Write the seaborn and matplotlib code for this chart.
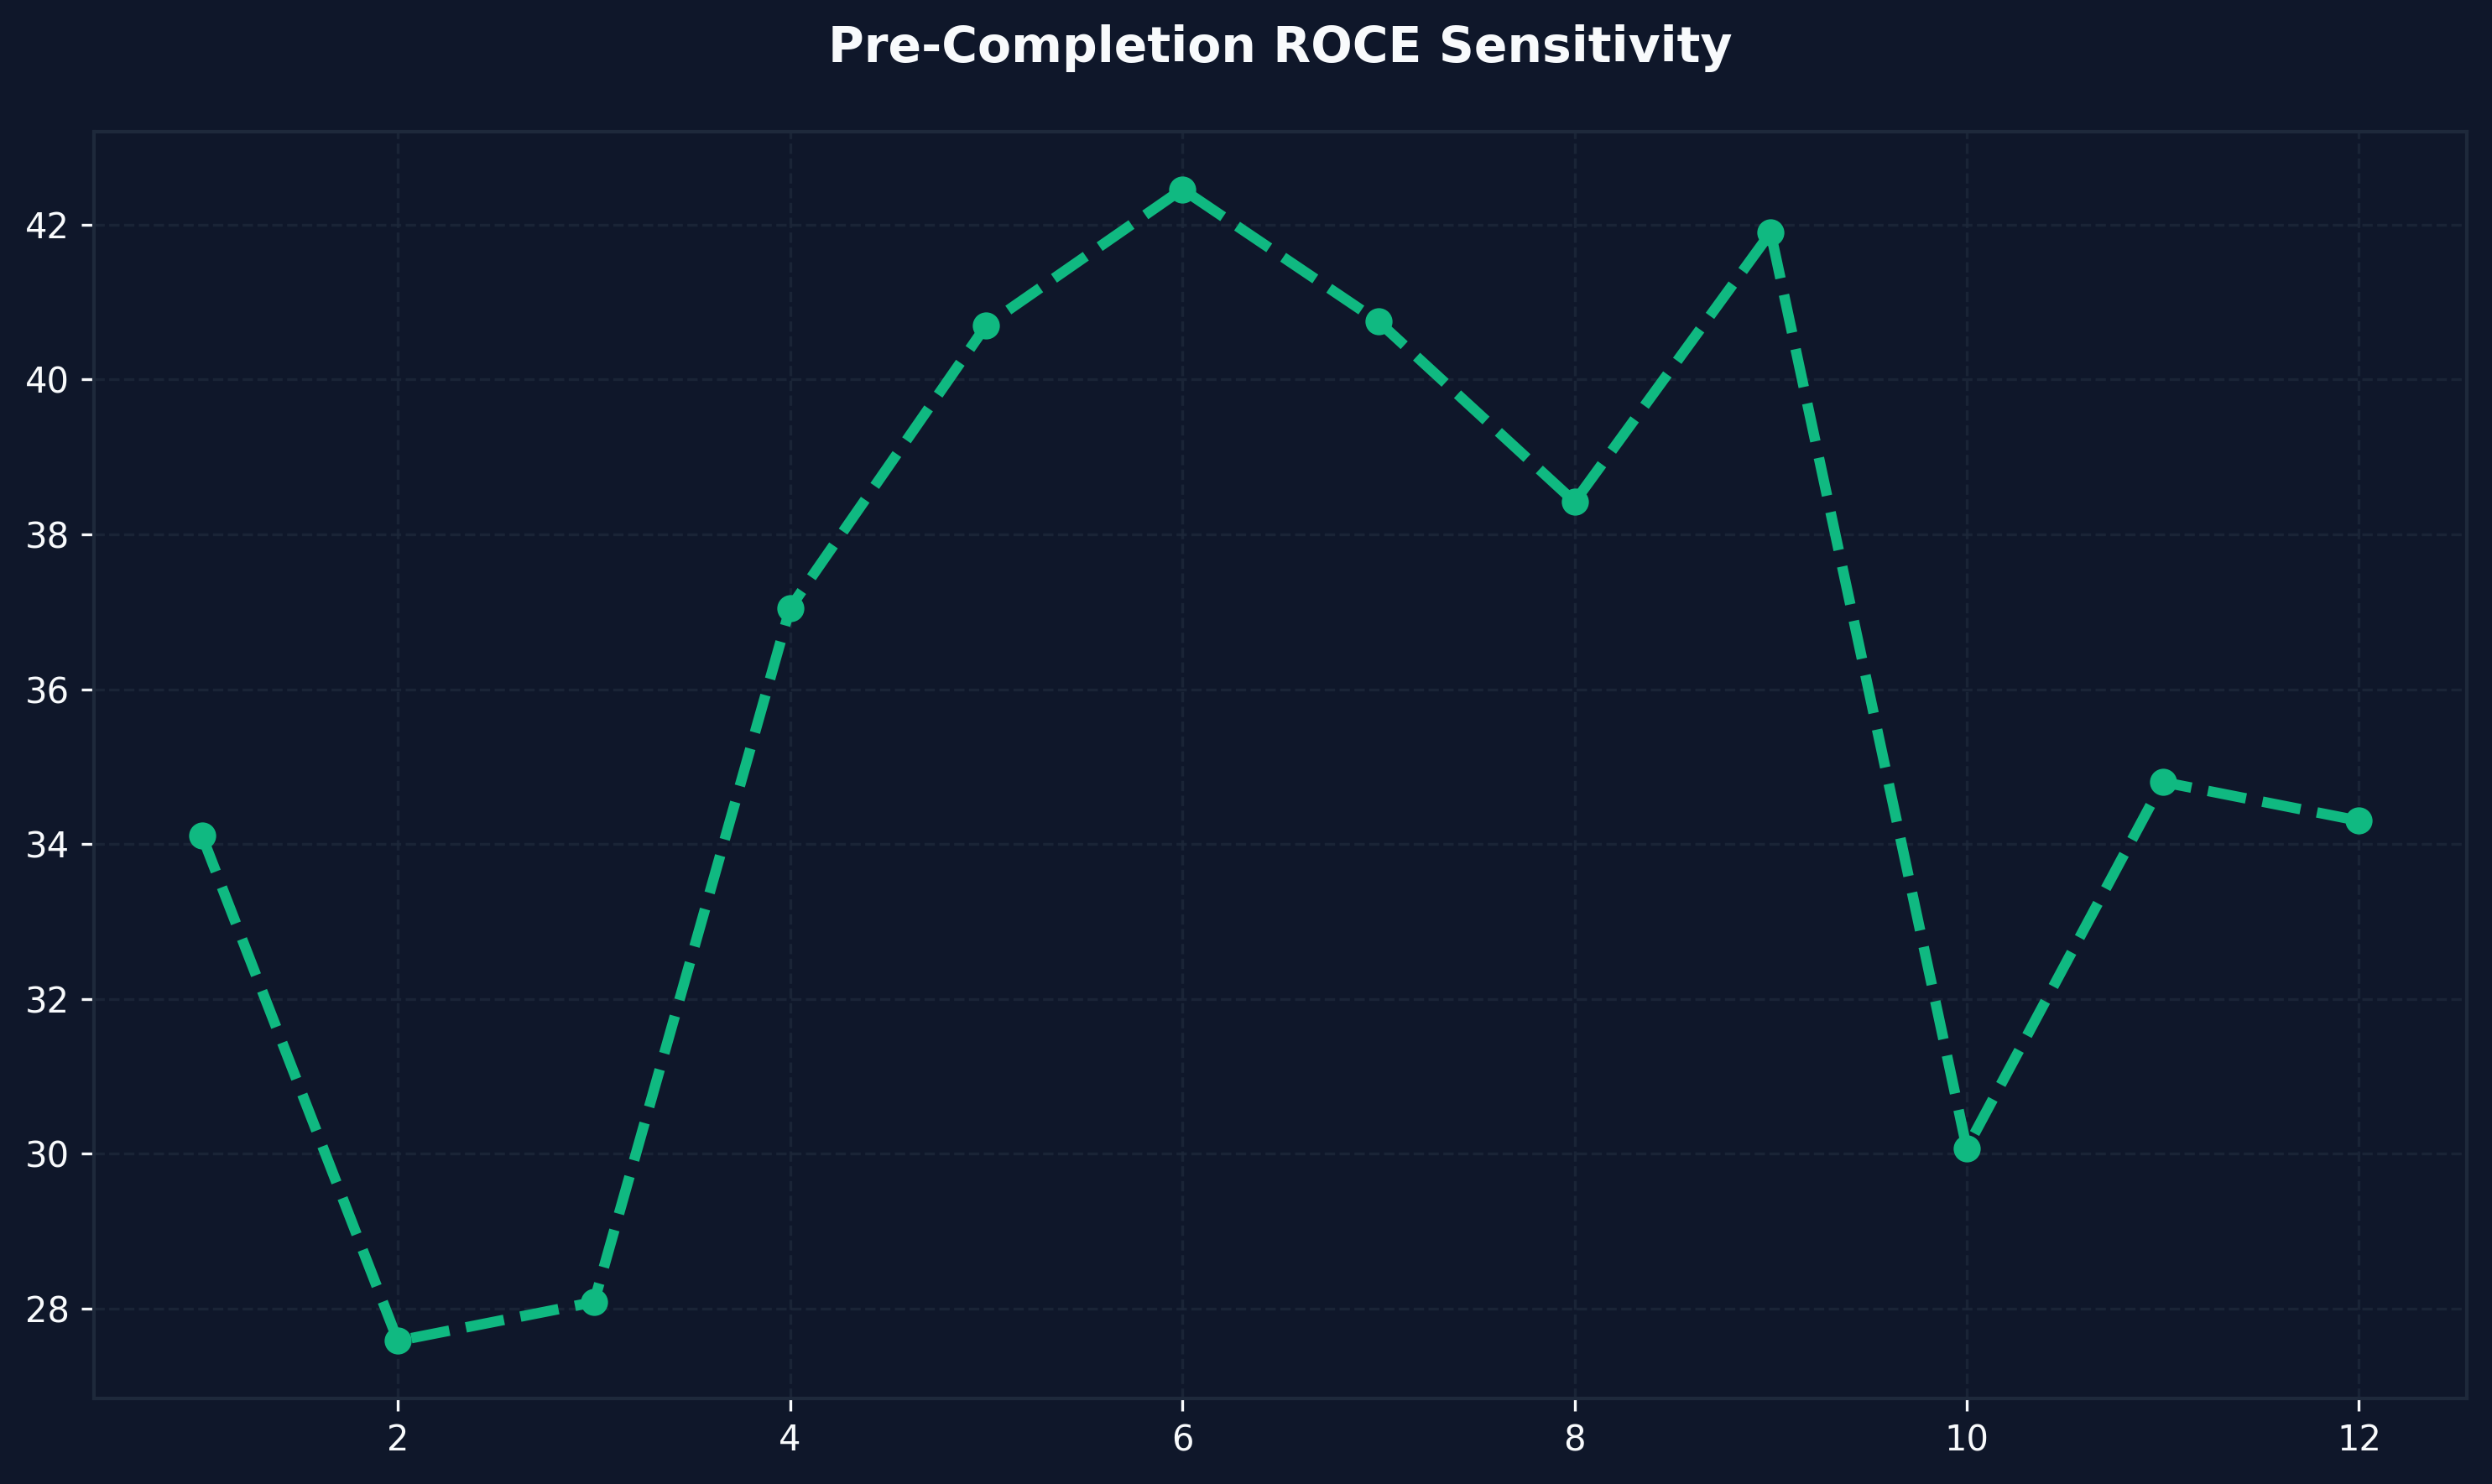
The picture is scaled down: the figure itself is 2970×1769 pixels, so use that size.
import matplotlib
matplotlib.use("Agg")
import matplotlib.pyplot as plt
import seaborn as sns
import pandas as pd

periods = [1, 2, 3, 4, 5, 6, 7, 8, 9, 10, 11, 12]
roce = [34.11, 27.58, 28.08, 37.05, 40.70, 42.46, 40.75, 38.42, 41.90, 30.07, 34.80, 34.30]
title = "Pre-Completion ROCE Sensitivity"

BG = "#0f172a"
LINE = "#10b981"
GRID = "#1e293b"
TXT = "#f8fafc"

sns.set_theme(style="dark")
plt.rcParams["font.family"] = ["DejaVu Sans"]

fig = plt.figure(figsize=(9.9, 5.8967), dpi=300, facecolor=BG)
ax = fig.add_axes([0.0377, 0.0577, 0.9522, 0.8536])
ax.set_facecolor(BG)

df = pd.DataFrame({"x": periods, "y": roce})
sns.lineplot(data=df, x="x", y="y", ax=ax, color=LINE, linewidth=3,
             linestyle="--", marker="o", markersize=7,
             markeredgecolor=LINE, markerfacecolor=LINE)

ax.set_xlabel("")
ax.set_ylabel("")
ax.grid(True, color=GRID, linestyle="--", linewidth=0.8, alpha=0.75)
for s in ax.spines.values():
    s.set_color(GRID)
    s.set_linewidth(1.0)
    s.set_visible(True)
ax.tick_params(axis="both", colors=TXT, labelsize=10, length=3.5, width=0.8,
               labelcolor=TXT, bottom=True, left=True)
ax.set_title(title, color=TXT, fontsize=14, fontweight="bold", pad=20)

fig.savefig("out.png", dpi=300, facecolor=BG)
